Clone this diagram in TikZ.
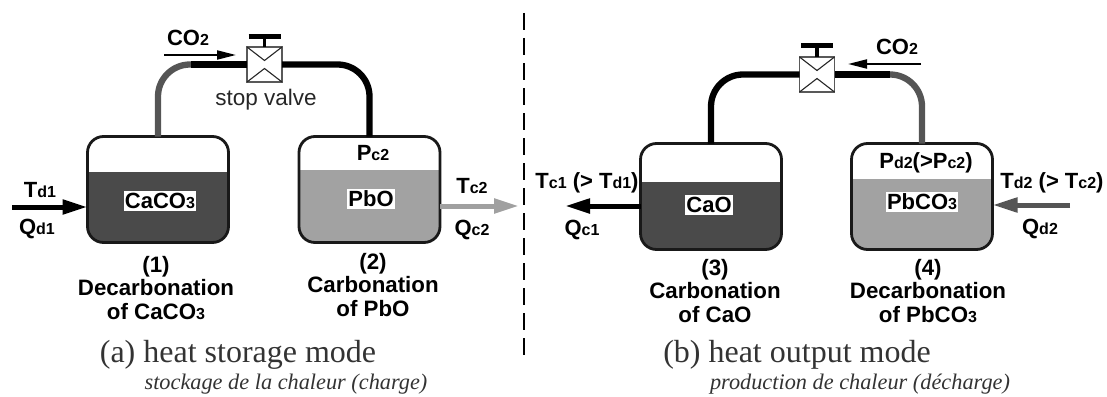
\documentclass[tikz,border=0pt]{standalone}
\usepackage{fontspec}
\setmainfont{Liberation Sans}
\newfontfamily\serifcap{Liberation Serif}
\usetikzlibrary{arrows.meta,calc}
\newcommand{\sm}[1]{{\fontsize{16}{18}\selectfont #1}}
\definecolor{darkfill}{HTML}{4A4A4A}
\definecolor{lightfill}{HTML}{A2A2A2}
\definecolor{midpipe}{HTML}{555555}
\definecolor{lightarrow}{HTML}{A0A0A0}
\tikzset{
  x=1pt,y=-1pt,
  tank/.style n args={3}{draw=black!90,line width=2.8pt,fill=white,rounded corners=16pt,
    minimum width=#1,minimum height=106pt,inner sep=0pt,outer sep=0pt,
    path picture={\fill[#2,sharp corners] (path picture bounding box.south west) rectangle ([yshift=#3]path picture bounding box.south east);}},
  pipe/.style={line width=6.3pt,draw=black},
  pipegray/.style={line width=6.3pt,draw=midpipe,rounded corners=32pt},
  pipeblack/.style={line width=6.3pt,draw=black,rounded corners=32pt},
  valvebox/.style={draw=black!65,line width=1.4pt,fill=white,minimum width=35pt,minimum height=35pt,inner sep=0pt,outer sep=0pt},
  vcross/.style={draw=black!85,line width=1.1pt},
  handle/.style={draw=black,line width=5pt},
  stem/.style={draw=black,line width=3.5pt},
  gasarrow/.style={draw=black,line width=2pt,-{Triangle[length=19pt,width=9pt]}},
  heatarrow/.style={draw=black,line width=5pt,-{Triangle[length=25pt,width=14pt]}},
  heatgray/.style={draw=lightarrow,line width=5pt,-{Triangle[length=25pt,width=14pt]}},
  heatmid/.style={draw=midpipe,line width=5pt,-{Triangle[length=25pt,width=14pt]}},
  lab/.style={inner sep=0pt,outer sep=0pt,font=\fontsize{22}{24}\selectfont\bfseries},
  onfill/.style={lab,fill=white,inner xsep=1pt,inner ysep=2pt},
  captext/.style={lab,align=center,font=\fontsize{22.3}{23.5}\selectfont\bfseries},
  thinlabel/.style={inner sep=0pt,font=\fontsize{22.5}{24}\selectfont,text=black!85},
  modetext/.style={inner sep=0pt,font=\serifcap\fontsize{32}{34}\selectfont,text=black!80},
  subtext/.style={inner sep=0pt,font=\serifcap\itshape\fontsize{22.3}{24}\selectfont,text=black!80},
  divider/.style={draw=black,line width=1.3pt,dash pattern=on 17pt off 8pt}
}
\begin{document}
\begin{tikzpicture}
\useasboundingbox (0,0) rectangle (1107,396);
% tanks
\node[tank={141pt}{darkfill}{71pt}] (tank1) at (158,189.5) {};
\node[tank={141pt}{lightfill}{73pt}] (tank2) at (369.5,189.5) {};
\node[tank={141pt}{darkfill}{68pt}] (tank3) at (711,196.5) {};
\node[tank={141pt}{lightfill}{71pt}] (tank4) at (922,196.5) {};
% valves
\node[valvebox] (valve1) at (264.5,64.5) {};
\node[valvebox] (valve2) at (817,74.5) {};
% pipe junctions
\coordinate (j1) at (191,64.5);
\coordinate (j2) at (890,74.5);
\draw[pipegray] (tank1.north) |- (j1);
\draw[pipe] (j1) -- (valve1.west);
\draw[pipeblack] (tank2.north) |- (valve1.east);
\draw[pipeblack] (tank3.north) |- (valve2.west);
\draw[pipegray] (tank4.north) |- (j2);
\draw[pipe] (j2) -- (valve2.east);
% valve symbols
\draw[vcross] (valve1.north west) -- ($(valve1.center)+(0,-4)$) -- (valve1.north east);
\draw[vcross] (valve1.south west) -- ($(valve1.center)+(0,4)$) -- (valve1.south east);
\draw[vcross] (valve2.north west) -- ($(valve2.center)+(0,-4)$) -- (valve2.north east);
\draw[vcross] (valve2.south west) -- ($(valve2.center)+(0,4)$) -- (valve2.south east);
\coordinate (h1) at (264.5,37);
\coordinate (h2) at (817,46);
\draw[handle] ($(h1)+(-16,0)$) -- ($(h1)+(16,0)$);
\draw[stem] (h1) -- (valve1.north);
\draw[handle] ($(h2)+(-16,0)$) -- ($(h2)+(16,0)$);
\draw[stem] (h2) -- (valve2.north);
% gas arrows
\coordinate (g1) at (164,55);
\coordinate (g2) at (236,55);
\coordinate (g3) at (921,64);
\coordinate (g4) at (848,64);
\draw[gasarrow] (g1) -- (g2);
\draw[gasarrow] (g3) -- (g4);
\node[lab] (co1) at (188,38) {CO\sm{2}};
\node[lab] (co2) at (897,47) {CO\sm{2}};
\node[thinlabel] (sv) at (266,100) {stop valve};
% heat arrows
\coordinate (a1) at (12,207);
\coordinate (a2) at (519,206);
\coordinate (a3) at (565,206);
\coordinate (a4) at (1070,205);
\draw[heatarrow] (a1) -- (tank1.west |- a1);
\draw[heatgray] (tank2.east |- a2) -- (a2);
\draw[heatarrow] (tank3.west |- a3) -- (a3);
\draw[heatmid] (a4) -- (tank4.east |- a4);
% fill labels
\node[onfill] (l1) at (160,201) {CaCO\sm{3}};
\node[onfill] (l2) at (371,199) {PbO};
\node[onfill] (l3) at (709,205) {CaO};
\node[onfill] (l4) at (922,202) {PbCO\sm{3}};
\node[lab] (pc2) at (373,153) {P\sm{c2}};
\node[lab] (pd2) at (926,163) {P\sm{d2}(>P\sm{c2})};
% heat labels
\node[lab] (t1) at (40,190) {T\sm{d1}};
\node[lab] (q1) at (37,229) {Q\sm{d1}};
\node[lab] (t2) at (472,186) {T\sm{c2}};
\node[lab] (q2) at (472,230) {Q\sm{c2}};
\node[lab] (t3) at (587,183) {T\sm{c1} (> T\sm{d1})};
\node[lab] (q3) at (582,230) {Q\sm{c1}};
\node[lab] (t4) at (1052,183) {T\sm{d2} (> T\sm{c2})};
\node[lab] (q4) at (1040,229) {Q\sm{d2}};
% captions
\node[captext] (c1) at (156,288) {(1)\\Decarbonation\\of CaCO\sm{3}};
\node[captext] (c2) at (373,285) {(2)\\Carbonation\\of PbO};
\node[captext] (c3) at (715,291) {(3)\\Carbonation\\of CaO};
\node[captext] (c4) at (928,291) {(4)\\Decarbonation\\of PbCO\sm{3}};
\node[modetext] (m1) at (238,354.5) {(a) heat storage mode};
\node[modetext] (m2) at (797,354.5) {(b) heat output mode};
\node[subtext] (s1) at (286,384) {stockage de la chaleur (charge)};
\node[subtext] (s2) at (860,384) {production de chaleur (décharge)};
% divider
\coordinate (d1) at (524,13);
\coordinate (d2) at (524,362);
\draw[divider] (d1) -- (d2);
\end{tikzpicture}
\end{document}
